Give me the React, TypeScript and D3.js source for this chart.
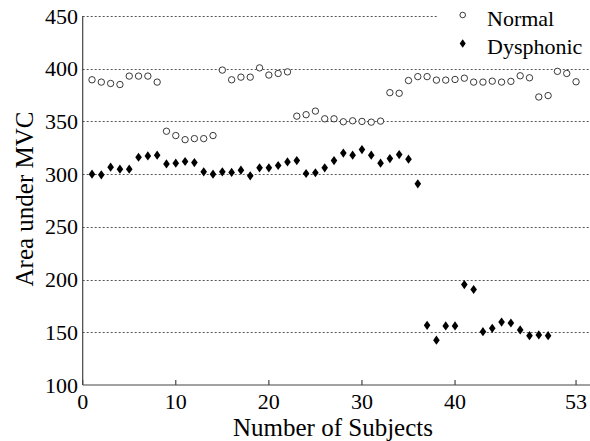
import * as d3 from "d3";

const normalValues = [
  389.5, 387.3, 386, 385, 393, 393, 393, 387.3, 340.7, 336.6, 332.7, 333.7,
  333.7, 336.6, 398.7, 389.5, 392, 392, 400.8, 394, 395.5, 397, 355, 356.4,
  359.8, 352.5, 352.5, 349.7, 350.6, 350, 349.3, 350.3, 377.3, 376.7, 388.8,
  392.5, 392.5, 389.2, 389.2, 389.8, 391, 387.3, 387.3, 388.2, 387.3, 388,
  393.3, 391.4, 373.2, 374.5, 397.5, 395.5, 387.6,
];

const dysphonicValues = [
  300, 299.4, 306.6, 304.7, 304.7, 316, 317.3, 318, 309.7, 310.4, 312, 311,
  302.2, 300, 302.2, 301.6, 303.8, 298.4, 306, 306, 308.2, 311.6, 312.9, 300.6,
  301.3, 306, 312.9, 320, 318, 323.3, 318, 310.4, 314.8, 318.6, 314.2, 290.8,
  156.6, 142.5, 156, 156, 195.3, 190.6, 150.6, 153.8, 159.7, 158.8, 152.2,
  146.8, 147.5, 146.8,
];

const xTicks = [0, 10, 20, 30, 40, 53];
const yTicks = [100, 150, 200, 250, 300, 350, 400, 450];
const seriesNames = ["Normal", "Dysphonic"];

const W = 590;
const H = 441;
const FONT = "'Liberation Serif', 'Times New Roman', serif";

const x = d3.scaleLinear().domain([0, 54.5]).range([82.7, 590]);
const y = d3.scaleLinear().domain([100, 450]).range([385, 16]);

// diamond marker, a bit taller than wide
const diamond = (cx: number, cy: number, hw = 3.3, hh = 4.6) =>
  `M${cx},${cy - hh}L${cx + hw},${cy}L${cx},${cy + hh}L${cx - hw},${cy}Z`;

export default function App() {
  const left = x.range()[0];
  const right = x.range()[1];
  const bottom = y.range()[0];

  return (
    <svg
      width={W}
      height={H}
      style={{ position: "absolute", left: 0, top: 0, background: "#fff" }}
      fontFamily={FONT}
    >
      {/* horizontal dotted grid */}
      <g stroke="#555" strokeWidth={1} strokeDasharray="2,2">
        {yTicks
          .filter((t) => t > 100)
          .map((t) => (
            <line
              key={t}
              x1={left}
              x2={right}
              y1={Math.round(y(t)) + 0.5}
              y2={Math.round(y(t)) + 0.5}
            />
          ))}
      </g>

      {/* legend background hides the grid behind it */}
      <rect x={437} y={0} width={W - 437} height={58} fill="#fff" />

      {/* axes */}
      <g stroke="#444" strokeWidth={1.2} fill="none">
        <line x1={left} x2={left} y1={y(450)} y2={bottom} />
        <line x1={left} x2={right} y1={bottom} y2={bottom} />
        {xTicks.map((t) => (
          <line key={t} x1={x(t)} x2={x(t)} y1={bottom} y2={bottom - 5} />
        ))}
      </g>

      {/* tick labels */}
      <g fontSize={22} fill="#000">
        {yTicks.map((t) => (
          <text key={t} x={78} y={y(t) + 7.5} textAnchor="end">
            {t}
          </text>
        ))}
        {xTicks.map((t) => (
          <text key={t} x={x(t)} y={409} textAnchor="middle">
            {t}
          </text>
        ))}
      </g>

      {/* axis titles */}
      <text x={333} y={436} fontSize={25} textAnchor="middle">
        Number of Subjects
      </text>
      <text
        transform="translate(33,199) rotate(-90)"
        fontSize={25}
        textAnchor="middle"
      >
        Area under MVC
      </text>

      {/* normal: open circles */}
      <g fill="#fff" stroke="#222" strokeWidth={0.9}>
        {normalValues.map((v, i) => (
          <circle key={i} cx={x(i + 1)} cy={y(v)} r={3.2} />
        ))}
      </g>

      {/* dysphonic: filled diamonds */}
      <g fill="#000">
        {dysphonicValues.map((v, i) => (
          <path key={i} d={diamond(x(i + 1), y(v))} />
        ))}
      </g>

      {/* legend */}
      <g fontSize={22}>
        <circle cx={462.7} cy={15} r={2.8} fill="#fff" stroke="#222" strokeWidth={0.9} />
        <text x={487} y={26}>
          {seriesNames[0]}
        </text>
        <path d={diamond(462.7, 43.5, 3, 4.2)} fill="#000" />
        <text x={487} y={54}>
          {seriesNames[1]}
        </text>
      </g>
    </svg>
  );
}
